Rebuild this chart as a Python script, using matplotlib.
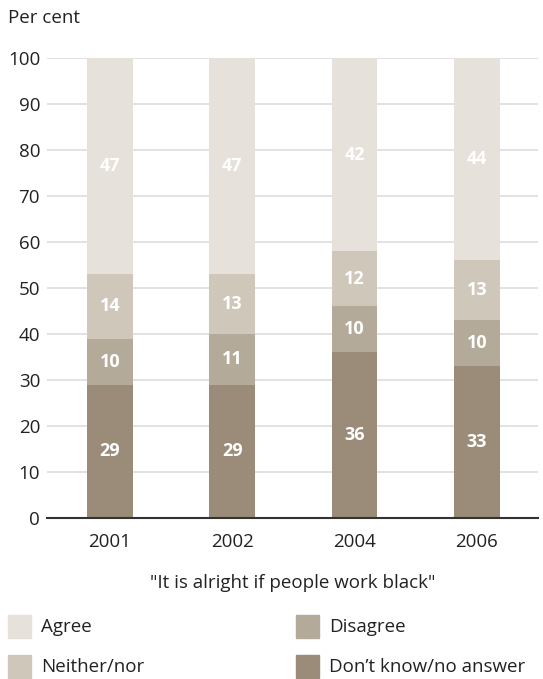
import matplotlib.pyplot as plt
import numpy as np
from matplotlib.patches import Rectangle

plt.rcParams['font.family'] = ['Open Sans', 'DejaVu Sans']

years = ['2001', '2002', '2004', '2006']
dont_know = [29, 29, 36, 33]
disagree = [10, 11, 10, 10]
neither = [14, 13, 12, 13]
agree = [47, 47, 42, 44]

series = [dont_know, disagree, neither, agree]
names = ['Don\u2019t know/no answer', 'Disagree', 'Neither/nor', 'Agree']
colors = ['#9a8c78', '#b4aa99', '#cfc7ba', '#e6e1da']

fig = plt.figure(figsize=(5.43, 6.79), dpi=100)
ax = fig.add_axes([0.0866, 0.2371, 0.904, 0.6775])

x = np.arange(len(years))
bottom = np.zeros(len(years))
for vals, c in zip(series, colors):
    bars = ax.bar(x, vals, width=0.376, bottom=bottom, color=c, zorder=2)
    for xi, b, v in zip(x, bottom, vals):
        ax.text(xi, b + v / 2, str(v), ha='center', va='center', color='white',
                fontsize=13, fontweight='bold', zorder=3)
    bottom += np.array(vals)

ax.set_ylim(0, 100)
ax.set_xlim(-0.515, 3.5)
ax.set_yticks(range(0, 101, 10))
ax.set_xticks(x)
ax.set_xticklabels(years)
ax.tick_params(axis='both', length=0, labelsize=13.5, colors='#222222')
ax.tick_params(axis='y', pad=5)
ax.tick_params(axis='x', pad=11)
ax.yaxis.grid(True, color='#dddddd', linewidth=1.2, zorder=0)
ax.set_axisbelow(True)
for s in ['top', 'right', 'left']:
    ax.spines[s].set_visible(False)
ax.spines['bottom'].set_color('#333333')
ax.spines['bottom'].set_linewidth(1.5)
ax.spines['bottom'].set_zorder(4)

ax.set_xlabel('"It is alright if people work black"', fontsize=13.5, color='#222222', labelpad=16)
fig.text(8 / 543, 1 - 18 / 679, 'Per cent', fontsize=13.5, color='#222222', va='center', ha='left')

# legend, two columns
leg_order = [3, 1, 2, 0]
leg_pos = [(8, 615), (296, 615), (8, 655), (296, 655)]
for i, (px, py) in zip(leg_order, leg_pos):
    fig.patches.append(Rectangle((px / 543, 1 - (py + 23) / 679), 23 / 543, 23 / 679,
                                 transform=fig.transFigure, color=colors[i]))
    fig.text((px + 33) / 543, 1 - (py + 12) / 679, names[i], fontsize=13.5,
             color='#222222', va='center', ha='left')

fig.savefig('out.png', dpi=100)
